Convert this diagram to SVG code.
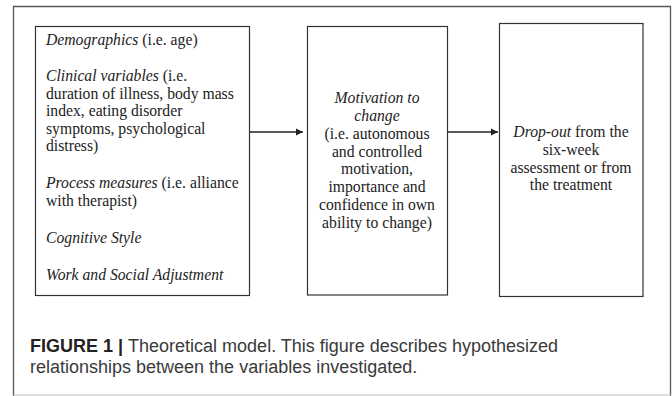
<svg xmlns="http://www.w3.org/2000/svg" width="672" height="396" viewBox="0 0 672 396">
<defs>
<style>
.box{fill:#fff;stroke:#333;stroke-width:1.2}
.t{font-family:"Liberation Serif","Times New Roman",serif;font-size:15.7px;fill:#222}
.c{text-anchor:middle}
.i{font-style:italic}
.cap{font-family:"Liberation Sans",Arial,sans-serif;font-size:18px;fill:#3a3a3a}
.conn{stroke:#222;stroke-width:1.3;fill:none}
</style>
<marker id="ah" markerWidth="8" markerHeight="8" refX="7" refY="4" orient="auto" markerUnits="userSpaceOnUse">
<path d="M0,0.5 L7,4 L0,7.5 Z" fill="#222"/>
</marker>
</defs>
<rect x="0" y="0" width="672" height="396" fill="#fff"/>
<path d="M13.5,396 V6.5 H670.5 V396" fill="none" stroke="#555" stroke-width="1.3"/>
<line x1="13" y1="395" x2="671" y2="395" stroke="#bbb" stroke-width="1"/>
<g id="node-predictors">
<rect class="box" x="35.5" y="26.5" width="214" height="269"/>
<text class="t" x="46" y="45"><tspan class="i">Demographics</tspan> (i.e. age)</text>
<text class="t" x="46" y="81"><tspan class="i">Clinical variables</tspan> (i.e.</text>
<text class="t" x="46" y="99">duration of illness, body mass</text>
<text class="t" x="46" y="116">index, eating disorder</text>
<text class="t" x="46" y="134">symptoms, psychological</text>
<text class="t" x="46" y="151">distress)</text>
<text class="t" x="46" y="188"><tspan class="i">Process measures</tspan> (i.e. alliance</text>
<text class="t" x="46" y="206">with therapist)</text>
<text class="t i" x="46" y="243">Cognitive Style</text>
<text class="t i" x="46" y="280">Work and Social Adjustment</text>
</g>
<g id="node-motivation">
<rect class="box" x="307.5" y="26.5" width="140" height="268.5"/>
<text class="t c i" x="377" y="103">Motivation to</text>
<text class="t c i" x="377" y="121">change</text>
<text class="t c" x="377" y="139">(i.e. autonomous</text>
<text class="t c" x="377" y="157">and controlled</text>
<text class="t c" x="377" y="174">motivation,</text>
<text class="t c" x="377" y="192">importance and</text>
<text class="t c" x="377" y="210">confidence in own</text>
<text class="t c" x="377" y="228">ability to change)</text>
</g>
<g id="node-dropout">
<rect class="box" x="499.5" y="23.5" width="143.5" height="273"/>
<text class="t c" x="571" y="137"><tspan class="i">Drop-out</tspan> from the</text>
<text class="t c" x="571" y="155">six-week</text>
<text class="t c" x="571" y="173">assessment or from</text>
<text class="t c" x="571" y="190">the treatment</text>
</g>
<g id="connectors">
<line class="conn" x1="250" y1="132" x2="303" y2="132" marker-end="url(#ah)"/>
<line class="conn" x1="448" y1="132" x2="498" y2="132" marker-end="url(#ah)"/>
</g>
<g id="caption">
<text class="cap" x="30" y="352"><tspan font-weight="bold" fill="#222">FIGURE 1 | </tspan>Theoretical model. This figure describes hypothesized</text>
<text class="cap" x="30" y="373">relationships between the variables investigated.</text>
</g>
</svg>
